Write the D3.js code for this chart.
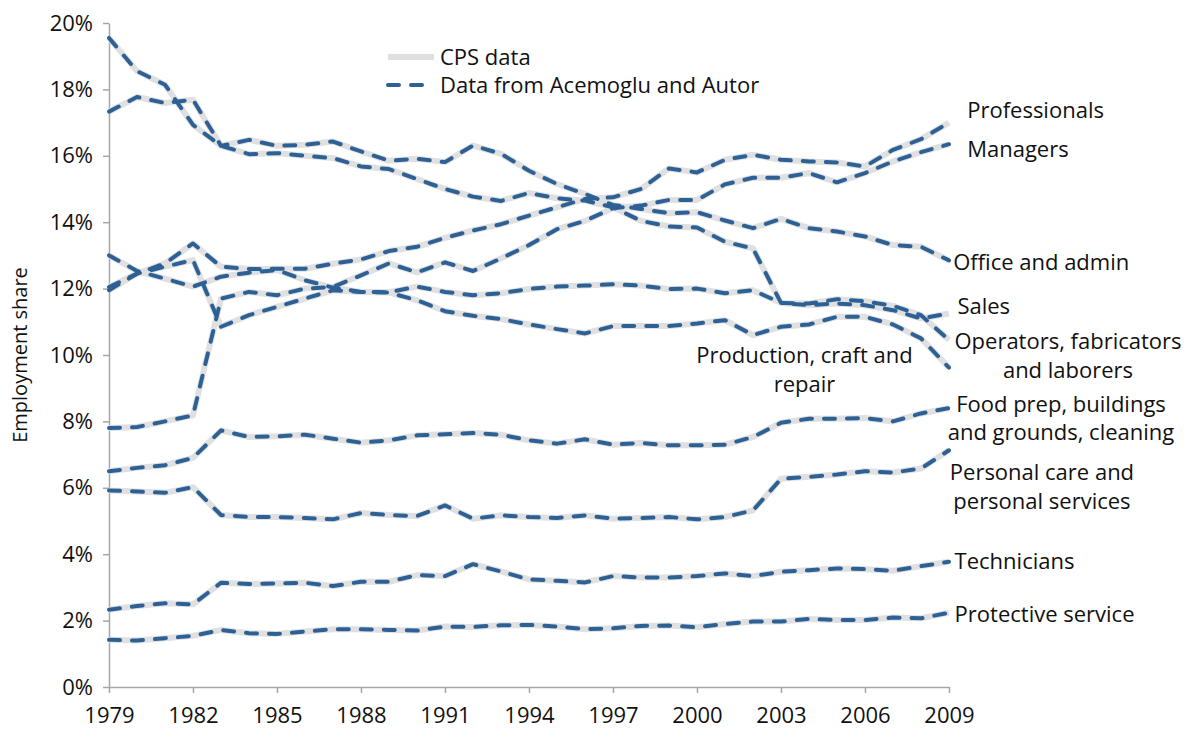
<!DOCTYPE html>
<html>
<head>
<meta charset="utf-8">
<script src="https://cdn.jsdelivr.net/npm/d3@7"></script>
<style>
  body { margin: 0; background: #fff; }
  svg { display: block; }
  text { font-family: "Open Sans", sans-serif; fill: #111; }
</style>
</head>
<body>
<div id="chart"></div>
<script>
// employment share by occupation, percent, 1979-2009
const years = d3.range(1979, 2010);

const professionals = [11.95, 12.45, 12.76, 13.36, 12.66, 12.59, 12.6, 12.6, 12.75, 12.88, 13.13, 13.26, 13.53, 13.75, 13.94, 14.2,
  14.45, 14.7, 14.75, 15.0, 15.62, 15.5, 15.88, 16.03, 15.88, 15.83, 15.8, 15.68, 16.18, 16.5, 17.0];
const managers = [7.8, 7.83, 8.0, 8.18, 11.7, 11.9, 11.8, 12.0, 12.05, 12.4, 12.76, 12.49, 12.79, 12.53, 12.91, 13.31,
  13.79, 14.04, 14.42, 14.5, 14.67, 14.67, 15.14, 15.34, 15.34, 15.48, 15.2, 15.48, 15.83, 16.11, 16.35];
const officeAdmin = [17.33, 17.77, 17.59, 17.69, 16.3, 16.48, 16.3, 16.33, 16.43, 16.13, 15.85, 15.91, 15.81, 16.31, 16.06, 15.55,
  15.15, 14.85, 14.52, 14.4, 14.27, 14.3, 14.05, 13.82, 14.1, 13.82, 13.72, 13.57, 13.31, 13.26, 12.85];
const sales = [19.55, 18.55, 18.14, 16.93, 16.3, 16.05, 16.08, 16.0, 15.93, 15.68, 15.6, 15.3, 15.0, 14.77, 14.64, 14.88,
  14.72, 14.65, 14.45, 14.04, 13.87, 13.84, 13.41, 13.21, 11.57, 11.5, 11.55, 11.5, 11.35, 11.1, 11.25];
const operators = [13.0, 12.53, 12.3, 12.06, 12.36, 12.48, 12.56, 12.25, 12.03, 11.9, 11.89, 12.06, 11.9, 11.8, 11.86, 11.99,
  12.06, 12.09, 12.13, 12.09, 11.99, 12.0, 11.86, 11.95, 11.57, 11.55, 11.68, 11.62, 11.48, 11.2, 10.45];
const production = [12.05, 12.45, 12.66, 12.86, 10.85, 11.2, 11.45, 11.7, 11.95, 11.9, 11.88, 11.65, 11.32, 11.18, 11.08, 10.92,
  10.78, 10.65, 10.87, 10.87, 10.87, 10.95, 11.05, 10.6, 10.85, 10.92, 11.15, 11.15, 10.92, 10.5, 9.62];
const foodPrep = [6.5, 6.6, 6.68, 6.9, 7.73, 7.53, 7.55, 7.6, 7.48, 7.36, 7.43, 7.58, 7.61, 7.65, 7.6, 7.43,
  7.33, 7.46, 7.3, 7.35, 7.28, 7.28, 7.3, 7.53, 7.96, 8.08, 8.08, 8.1, 8.0, 8.24, 8.4];
const personalCare = [5.92, 5.89, 5.85, 6.02, 5.18, 5.12, 5.12, 5.09, 5.05, 5.24, 5.18, 5.15, 5.47, 5.07, 5.17, 5.12,
  5.09, 5.17, 5.07, 5.09, 5.12, 5.05, 5.12, 5.32, 6.27, 6.33, 6.4, 6.5, 6.46, 6.58, 7.13];
const technicians = [2.33, 2.44, 2.52, 2.49, 3.14, 3.1, 3.12, 3.14, 3.04, 3.17, 3.17, 3.37, 3.34, 3.7, 3.48, 3.24,
  3.2, 3.15, 3.34, 3.3, 3.3, 3.34, 3.42, 3.34, 3.47, 3.52, 3.57, 3.55, 3.5, 3.64, 3.77];
const protective = [1.42, 1.4, 1.47, 1.54, 1.72, 1.62, 1.6, 1.67, 1.74, 1.74, 1.72, 1.7, 1.82, 1.81, 1.86, 1.87,
  1.82, 1.74, 1.77, 1.84, 1.85, 1.8, 1.9, 1.97, 1.97, 2.05, 2.02, 2.02, 2.09, 2.07, 2.24];

const xTicks = [1979, 1982, 1985, 1988, 1991, 1994, 1997, 2000, 2003, 2006, 2009];
const yTicks = [0, 2, 4, 6, 8, 10, 12, 14, 16, 18, 20];
const legendLabels = ['CPS data', 'Data from Acemoglu and Autor'];

const series = [
  { name: 'Professionals', values: professionals },
  { name: 'Managers', values: managers },
  { name: 'Office and admin', values: officeAdmin },
  { name: 'Sales', values: sales },
  { name: 'Operators, fabricators and laborers', values: operators },
  { name: 'Production, craft and repair', values: production },
  { name: 'Food prep, buildings and grounds, cleaning', values: foodPrep },
  { name: 'Personal care and personal services', values: personalCare },
  { name: 'Technicians', values: technicians },
  { name: 'Protective service', values: protective },
];

// where the labels sit (year, share, line breaks)
const labelLayout = [
  { lines: ['Professionals'], year: 2009.65, share: 17.14, anchor: 'start' },
  { lines: ['Managers'], year: 2009.65, share: 15.97, anchor: 'start' },
  { lines: ['Office and admin'], year: 2009.15, share: 12.57, anchor: 'start' },
  { lines: ['Sales'], year: 2009.3, share: 11.25, anchor: 'start' },
  { lines: ['Operators, fabricators', 'and laborers'], year: 2013.25, share: 10.18, anchor: 'middle' },
  { lines: ['Production, craft and', 'repair'], year: 2003.84, share: 9.75, anchor: 'middle' },
  { lines: ['Food prep, buildings', 'and grounds, cleaning'], year: 2013.0, share: 8.29, anchor: 'middle' },
  { lines: ['Personal care and', 'personal services'], year: 2012.32, share: 6.22, anchor: 'middle' },
  { lines: ['Technicians'], year: 2009.2, share: 3.54, anchor: 'start' },
  { lines: ['Protective service'], year: 2009.2, share: 1.96, anchor: 'start' },
];

const W = 1191, H = 740;
const svg = d3.select('#chart').append('svg').attr('width', W).attr('height', H);

const x = d3.scaleLinear().domain([1979, 2009]).range([109, 949]);
const y = d3.scaleLinear().domain([0, 20]).range([687, 23]);

const axisColor = '#a6a6a6';
const grey = '#e0e0e0';
const blue = '#2d6195';
const fontSize = 22;

// y axis
const yAxis = svg.append('g')
  .attr('transform', `translate(${x(1979)},0)`)
  .call(d3.axisLeft(y).tickValues(yTicks).tickFormat(d => d + '%').tickSize(6).tickSizeOuter(0));
yAxis.select('.domain').attr('stroke', axisColor).attr('stroke-width', 1.5);
yAxis.selectAll('.tick line').attr('stroke', axisColor).attr('stroke-width', 1.5);
yAxis.selectAll('.tick text')
  .attr('x', -16)
  .attr('font-size', fontSize)
  .attr('font-family', '"Open Sans", sans-serif')
  .attr('fill', '#111');

// x axis
const xAxis = svg.append('g')
  .attr('transform', `translate(0,${y(0)})`)
  .call(d3.axisBottom(x).tickValues(xTicks).tickFormat(d3.format('d')).tickSize(6).tickSizeOuter(0));
xAxis.select('.domain').attr('stroke', axisColor).attr('stroke-width', 1.5);
xAxis.selectAll('.tick line').attr('stroke', axisColor).attr('stroke-width', 1.5);
xAxis.selectAll('.tick text')
  .attr('y', 20)
  .attr('font-size', fontSize)
  .attr('font-family', '"Open Sans", sans-serif')
  .attr('fill', '#111');

svg.append('text')
  .attr('transform', `translate(27,${y(10)}) rotate(-90)`)
  .attr('text-anchor', 'middle')
  .attr('font-size', 20)
  .text('Employment share');

const line = d3.line()
  .x((d, i) => x(years[i]))
  .y(d => y(d));

// CPS (light, solid) underneath, A&A (dashed) on top
svg.append('g').selectAll('path')
  .data(series)
  .join('path')
  .attr('fill', 'none')
  .attr('stroke', grey)
  .attr('stroke-width', 6)
  .attr('stroke-linejoin', 'round')
  .attr('d', d => line(d.values));

svg.append('g').selectAll('path')
  .data(series)
  .join('path')
  .attr('fill', 'none')
  .attr('stroke', blue)
  .attr('stroke-width', 4)
  .attr('stroke-dasharray', '11,12')
  .attr('stroke-linecap', 'round')
  .attr('stroke-linejoin', 'round')
  .attr('d', d => line(d.values));

// legend
const legend = svg.append('g').attr('transform', 'translate(388,57)');
legendLabels.forEach((label, i) => {
  const row = legend.append('g').attr('transform', `translate(0,${i * 28})`);
  row.append('line')
    .attr('x1', 0).attr('x2', 46)
    .attr('stroke', i === 0 ? grey : blue)
    .attr('stroke-width', i === 0 ? 6 : 4)
    .attr('stroke-dasharray', i === 0 ? null : '11,12')
    .attr('stroke-linecap', i === 0 ? 'butt' : 'round');
  row.append('text')
    .attr('x', 52)
    .attr('dy', '0.35em')
    .attr('font-size', fontSize)
    .text(label);
});

// series labels
const labels = svg.append('g');
labelLayout.forEach(l => {
  const t = labels.append('text')
    .attr('text-anchor', l.anchor)
    .attr('font-size', fontSize);
  l.lines.forEach((s, i) => {
    t.append('tspan')
      .attr('x', x(l.year))
      .attr('y', y(l.share) + i * 28.5)
      .text(s);
  });
});
</script>
</body>
</html>
